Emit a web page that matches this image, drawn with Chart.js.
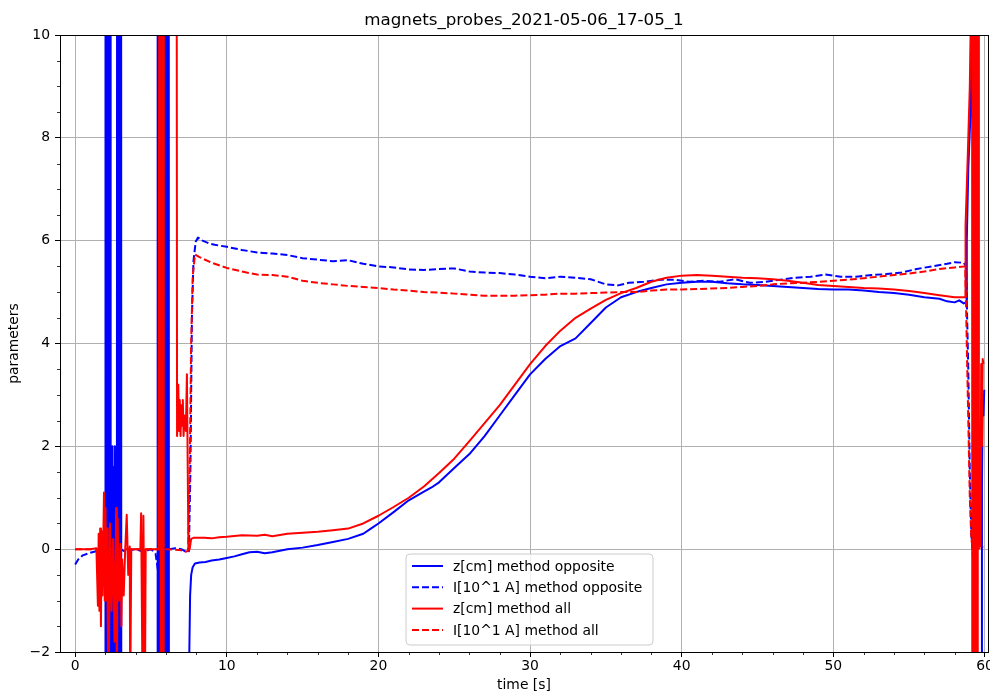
<!DOCTYPE html>
<html>
<head>
<meta charset="utf-8">
<script src="https://cdn.jsdelivr.net/npm/chart.js@4/dist/chart.umd.min.js"></script>
<style>
  body { margin: 0; background: #fff; }
  canvas { display: block; }
</style>
</head>
<body>
<canvas id="probeChart" width="990" height="694"></canvas>
<script>
// axis ticks
const xTicks = [0, 10, 20, 30, 40, 50, 60];
const yTicks = [-2, 0, 2, 4, 6, 8, 10];
const xMinor = [2, 4, 6, 8, 12, 14, 16, 18, 22, 24, 26, 28, 32, 34, 36, 38, 42, 44, 46, 48, 52, 54, 56, 58];
const yMinor = [-1.5, -1, -0.5, 0.5, 1, 1.5, 2.5, 3, 3.5, 4.5, 5, 5.5, 6.5, 7, 7.5, 8.5, 9, 9.5];

const chartTitle = "magnets_probes_2021-05-06_17-05_1";
const seriesNames = ["z[cm] method opposite", "I[10^1 A] method opposite", "z[cm] method all", "I[10^1 A] method all"];

// z[cm] method opposite
const zOppTime = [0, 1.98, 2.0, 2.04, 2.08, 2.12, 2.16, 2.2, 2.24, 2.28, 2.31, 2.34, 2.38, 2.42, 2.46, 2.5, 2.54, 2.58, 2.62, 2.66, 2.7, 2.75,
  2.78, 2.82, 2.86, 2.9, 2.94, 2.98, 3.02, 3.06, 3.1, 5.4, 5.44, 5.48, 5.52, 5.56, 5.6, 5.64, 5.68, 5.72, 5.76, 5.8, 5.84, 5.88, 5.92,
  5.96, 6.0, 6.04, 6.08, 6.12, 6.16, 6.2, 6.24, 7.48, 7.52, 7.58, 7.65, 7.75, 7.9, 8.2, 8.6, 9.0, 9.5, 10, 10.5, 11, 11.5, 12, 12.5,
  13, 13.5, 14, 15, 16, 17, 18, 19, 19.5, 20, 21, 22, 23, 23.5, 24, 25, 26, 27, 28, 29, 30, 31, 32, 33, 34, 35, 36, 37, 38, 39, 40, 41,
  42, 43, 44, 45, 46, 47, 48, 49, 50, 51, 52, 53, 54, 55, 56, 57, 57.5, 58, 58.3, 58.6, 58.75, 58.8, 58.9, 59.05, 59.12, 59.16, 59.2,
  59.24, 59.28, 59.32, 59.36, 59.4, 59.45, 59.5, 59.78, 59.8, 59.85, 59.9, 59.95];
const zOppValues = [-20, -20, 30, -30, 30, -30, 30, -30, 30, -30, 30, -3, 1.8, -3, 2.0, -3, 1.6, -3, 2.0, -3, 1.0, -3,
  30, -30, 30, -30, 30, -30, 30, -30, -30, -30, 30, -30, 30, -30, 30, -30, 30, -30, 30, -30, 30, -30, 30,
  -30, 30, -30, 30, -30, 30, -30, -30, -30, -2.2, -0.9, -0.5, -0.35, -0.28, -0.26, -0.25, -0.22, -0.2, -0.17, -0.14, -0.1, -0.06, -0.05, -0.08,
  -0.06, -0.03, 0.0, 0.03, 0.08, 0.14, 0.2, 0.3, 0.4, 0.5, 0.72, 0.95, 1.12, 1.2, 1.3, 1.58, 1.85, 2.2, 2.6, 3.0, 3.4, 3.7, 3.95, 4.1, 4.4, 4.7, 4.9, 5.0, 5.08, 5.15, 5.18, 5.2,
  5.2, 5.17, 5.15, 5.14, 5.12, 5.1, 5.08, 5.06, 5.05, 5.05, 5.03, 5.0, 4.98, 4.95, 4.9, 4.87, 4.82, 4.8, 4.84, 4.78, 4.8, 6.0, 7.4, 8.5, 12, 30, -30,
  30, -30, 30, -30, 30, 1.3, -30, -30, 1.2, 3.0, 2.6, 3.1];

// I[10^1 A] method opposite
const iOppTime = [0, 0.2, 0.5, 1.0, 1.5, 2.0, 2.3, 2.6, 3.0, 3.3, 3.6, 4.0, 4.5, 5.0, 5.3, 5.5, 5.6, 5.8, 6.0, 6.2, 6.6, 7.0, 7.3, 7.5,
  7.6, 7.7, 7.8, 7.95, 8.1, 8.4, 8.8, 9.2, 10, 11, 12, 13, 14, 15, 16, 17, 18, 19, 20, 21, 22, 23, 24, 25, 26, 27, 28, 29, 30, 31, 32,
  33, 34, 35, 35.8, 36.5, 37.5, 38.5, 39.5, 40.5, 41.5, 42.5, 43.5, 44.5, 45.5, 46.5, 47.5, 48.5, 49.5, 50.5, 51.5, 52.5, 53.5, 54.5,
  55.5, 56.5, 57.5, 58.0, 58.6, 58.75, 58.9, 59.0, 59.1, 59.2, 59.25, 59.3];
const iOppValues = [-0.3, -0.2, -0.12, -0.07, -0.03, 0.0, 0.05, 0.02, 0.0, -0.05, -0.02, 0.0, -0.05, 0.0, -0.08, -0.5, -0.2, -0.6, -0.1, 0.0, 0.02, 0.0, -0.05, -0.04,
  1.5, 4.5, 5.6, 5.98, 6.06, 6.0, 5.95, 5.92, 5.88, 5.82, 5.77, 5.75, 5.72, 5.66, 5.63, 5.6, 5.62, 5.55, 5.5, 5.48, 5.44, 5.43, 5.45, 5.46, 5.4, 5.38, 5.37, 5.34, 5.3, 5.27, 5.3,
  5.28, 5.25, 5.15, 5.13, 5.18, 5.2, 5.24, 5.24, 5.2, 5.22, 5.2, 5.25, 5.18, 5.2, 5.24, 5.28, 5.3, 5.34, 5.3, 5.3, 5.33, 5.35, 5.38,
  5.45, 5.5, 5.55, 5.58, 5.57, 5.5, 3.5, 1.5, 0.3, -0.1, -0.35, -0.3];

// z[cm] method all
const zAllTime = [0, 1.0, 1.4, 1.5, 1.55, 1.6, 1.65, 1.7, 1.75, 1.8, 1.9, 1.95, 2.0, 2.05, 2.1, 2.15, 2.2, 2.3, 2.4, 2.5, 2.6, 2.7,
  2.75, 2.8, 2.9, 3.0, 3.05, 3.1, 3.2, 3.3, 3.4, 3.5, 3.6, 3.63, 3.7, 4.3, 4.35, 4.45, 4.5, 4.6, 4.65, 5.5, 5.62, 5.66, 5.7, 5.74,
  5.78, 5.82, 5.86, 5.9, 6.0, 6.3, 6.7, 6.72, 6.8, 6.85, 6.9, 6.95, 7.0, 7.05, 7.1, 7.15, 7.2, 7.3, 7.37, 7.47, 7.55, 7.65, 7.8, 8.5,
  9.0, 9.5, 10, 11, 12, 12.5, 13, 14, 15, 16, 17, 18, 19, 20, 21, 22, 23, 24, 25, 26, 27, 28, 29, 30, 31, 32, 33, 34, 35, 36,
  37, 38, 39, 40, 41, 42, 43, 44, 45, 46, 47, 48, 49, 50, 51, 52, 53, 54, 55, 56, 57, 58, 58.6, 58.7, 58.72, 58.85, 59.0, 59.1,
  59.15, 59.22, 59.3, 59.35, 59.45, 59.5, 59.55, 59.6, 59.7, 59.75, 59.8, 59.85, 59.9];
const zAllValues = [0, 0, 0.02, -1.1, 0.3, -1.2, 0.4, -1.5, 0.35, -0.9, 1.1, -1.0, 0.8, -1.0, 0.4, -1.5, -3, 0.5, -1.2, 0.2, -1.8, 0.8,
  -3, 0.6, -1.0, 0.1, -1.5, -0.2, -0.9, 0.0, 0.67, -0.5, 0.05, -3, 0.0, 0.0, 0.7, -3, 0.65, -3, 0.0, 0.0, 30, -30, 30, -30,
  30, -30, 30, 10.0, 10.0, 10.0, 10.0, 2.2, 3.2, 2.3, 2.9, 2.2, 2.8, 2.4, 2.9, 2.2, 2.6, 2.3, 3.4, 0.0, 0.0, 0.2, 0.22, 0.22,
  0.21, 0.23, 0.24, 0.27, 0.26, 0.28, 0.25, 0.3, 0.32, 0.34, 0.37, 0.4, 0.5, 0.65, 0.82, 1.0, 1.22, 1.48, 1.76, 2.1, 2.45, 2.8, 3.2, 3.6, 3.95, 4.25, 4.5, 4.68, 4.85, 4.98,
  5.08, 5.2, 5.28, 5.32, 5.33, 5.32, 5.3, 5.28, 5.27, 5.25, 5.22, 5.18, 5.14, 5.12, 5.1, 5.08, 5.07, 5.05, 5.02, 4.98, 4.94, 4.9, 4.9, 4.9, 6.3, 7.5, 9.0, 11,
  30, -30, 30, -30, 30, -30, 30, 0.05, 0.05, 3.6, 2.0, 3.7, 3.6];

// I[10^1 A] method all
const iAllTime = [0, 1, 2, 3, 4, 5, 6, 7.0, 7.3, 7.45, 7.55, 7.65, 7.75, 7.9, 8.2, 9, 10, 11, 12, 13, 14, 15, 16, 17, 18, 19, 20,
  21, 22, 23, 24, 25, 26, 27, 28, 29, 30, 31, 32, 33, 34, 35, 36, 37, 38, 39, 40, 41, 42, 43, 44, 45, 46, 47, 48, 49, 50, 51, 52,
  53, 54, 55, 56, 57, 58, 58.7, 58.8, 58.9, 59.0, 59.1, 59.2, 59.5, 59.9];
const iAllValues = [0, 0, 0, 0, 0, 0, 0, -0.02, -0.05, -0.03, 1.5, 4.0, 5.3, 5.73, 5.68, 5.57, 5.47, 5.4, 5.34, 5.33, 5.3, 5.22, 5.18, 5.15, 5.12, 5.1, 5.08,
  5.05, 5.03, 5.0, 4.99, 4.97, 4.95, 4.93, 4.93, 4.93, 4.94, 4.95, 4.97, 4.97, 4.98, 4.99, 5.0, 5.0, 5.03, 5.05, 5.05, 5.06, 5.07, 5.08, 5.1, 5.12, 5.15, 5.17, 5.18,
  5.2, 5.22, 5.24, 5.27, 5.3, 5.33, 5.36, 5.4, 5.45, 5.48, 5.5, 4.0, 2.5, 1.0, 0.2, 0.0, 0.0, 0.05];

function toPoints(times, values) {
    return times.map((t, i) => ({ x: t, y: values[i] }));
}

const FONT = "'DejaVu Sans', sans-serif";
Chart.defaults.font.family = FONT;
Chart.defaults.color = "#000";

// title over the axes, minor ticks, full frame and the legend box
const framePlugin = {
    id: "frame",
    afterDatasetsDraw(chart) {
        const ctx = chart.ctx;
        const a = chart.chartArea;
        const xs = chart.scales.x, ys = chart.scales.y;
        ctx.save();
        ctx.fillStyle = "#000";
        ctx.font = "16.7px " + FONT;
        ctx.textAlign = "center";
        ctx.textBaseline = "middle";
        ctx.fillText(chartTitle, (a.left + a.right) / 2, 21);

        ctx.strokeStyle = "#000";
        ctx.lineWidth = 0.8;
        xMinor.forEach(v => {
            const px = Math.round(xs.getPixelForValue(v)) + 0.5;
            ctx.beginPath(); ctx.moveTo(px, a.bottom); ctx.lineTo(px, a.bottom + 3); ctx.stroke();
        });
        yMinor.forEach(v => {
            const py = Math.round(ys.getPixelForValue(v)) + 0.5;
            ctx.beginPath(); ctx.moveTo(a.left, py); ctx.lineTo(a.left - 3, py); ctx.stroke();
        });
        ctx.lineWidth = 1;
        ctx.strokeRect(Math.round(a.left) + 0.5, Math.round(a.top) + 0.5,
            Math.round(a.right - a.left), Math.round(a.bottom - a.top));

        // legend
        const bx = 406, by = 554, bw = 247, bh = 91, r = 4;
        ctx.beginPath();
        ctx.moveTo(bx + r, by);
        ctx.arcTo(bx + bw, by, bx + bw, by + bh, r);
        ctx.arcTo(bx + bw, by + bh, bx, by + bh, r);
        ctx.arcTo(bx, by + bh, bx, by, r);
        ctx.arcTo(bx, by, bx + bw, by, r);
        ctx.closePath();
        ctx.fillStyle = "rgba(255,255,255,0.8)";
        ctx.fill();
        ctx.strokeStyle = "#cccccc";
        ctx.stroke();
        ctx.font = "13.9px " + FONT;
        ctx.textAlign = "left";
        ctx.textBaseline = "middle";
        ctx.fillStyle = "#000";
        chart.data.datasets.forEach((ds, i) => {
            const y = 566 + i * 21.3;
            ctx.strokeStyle = ds.borderColor;
            ctx.lineWidth = 2;
            ctx.setLineDash(ds.borderDash || []);
            ctx.beginPath(); ctx.moveTo(412, y); ctx.lineTo(443, y); ctx.stroke();
            ctx.setLineDash([]);
            ctx.fillText(ds.label, 453, y + 1);
        });
        ctx.restore();
    }
};

const ctx = document.getElementById("probeChart").getContext("2d");
new Chart(ctx, {
    type: "line",
    data: {
        datasets: [
            { label: seriesNames[0], data: toPoints(zOppTime, zOppValues), borderColor: "#0000ff", order: 4 },
            { label: seriesNames[1], data: toPoints(iOppTime, iOppValues), borderColor: "#0000ff", borderDash: [7, 3], order: 3 },
            { label: seriesNames[2], data: toPoints(zAllTime, zAllValues), borderColor: "#ff0000", order: 2 },
            { label: seriesNames[3], data: toPoints(iAllTime, iAllValues), borderColor: "#ff0000", borderDash: [7, 3], order: 1 }
        ]
    },
    options: {
        responsive: false,
        animation: false,
        events: [],
        layout: { padding: { left: 0, right: 2, top: 35, bottom: 0 } },
        elements: {
            point: { radius: 0 },
            line: { borderWidth: 2, tension: 0, fill: false, borderJoinStyle: "round" }
        },
        plugins: {
            legend: { display: false },
            tooltip: { enabled: false },
            title: { display: false }
        },
        scales: {
            x: {
                type: "linear",
                min: -1,
                max: 60.2,
                afterBuildTicks: s => { s.ticks = xTicks.map(v => ({ value: v })); },
                afterFit: s => { s.height = 42; s.paddingLeft = 0; s.paddingRight = 0; },
                ticks: { font: { size: 13.9 }, padding: 1, maxRotation: 0, autoSkip: false },
                grid: { color: "#b0b0b0", lineWidth: 1, tickColor: "#000", tickLength: 5 },
                border: { display: false },
                title: { display: true, text: "time [s]", font: { size: 13.9 }, padding: { top: 0, bottom: 0 } }
            },
            y: {
                min: -2,
                max: 10,
                afterBuildTicks: s => { s.ticks = yTicks.map(v => ({ value: v })); },
                afterFit: s => { s.width = 60; s.paddingTop = 0; s.paddingBottom = 0; },
                ticks: {
                    font: { size: 13.9 },
                    padding: 5,
                    callback: v => (v < 0 ? "\u2212" + Math.abs(v) : String(v))
                },
                grid: { color: "#b0b0b0", lineWidth: 1, tickColor: "#000", tickLength: 5 },
                border: { display: false },
                title: { display: true, text: "parameters", font: { size: 13.9 }, padding: { top: 6, bottom: 0 } }
            }
        }
    },
    plugins: [framePlugin]
});
</script>
</body>
</html>
